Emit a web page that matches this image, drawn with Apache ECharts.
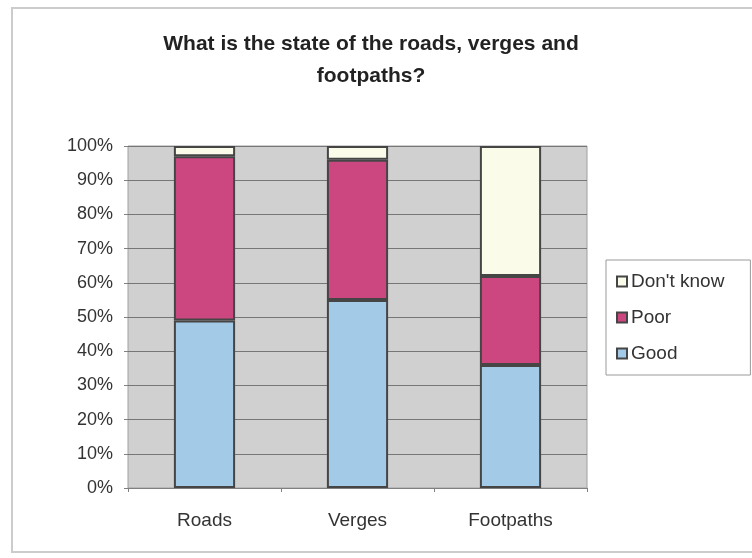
<!DOCTYPE html>
<html>
<head>
<meta charset="utf-8">
<script src="https://cdn.jsdelivr.net/npm/echarts@6/dist/echarts.min.js"></script>
<style>
  html, body { margin: 0; padding: 0; background: #ffffff; }
  #chart { width: 752px; height: 558px; }
</style>
</head>
<body>
<div id="chart"></div>
<script>
var categories = ['Roads', 'Verges', 'Footpaths'];
var good = [49, 55, 36];
var poor = [48, 41, 26];
var dontKnow = [3, 4, 38];

var edge = '#454545';

var option = {
    backgroundColor: '#ffffff',
    textStyle: { fontFamily: 'Liberation Sans, Arial, sans-serif' },
    title: {
        text: 'What is the state of the roads, verges and\nfootpaths?',
        left: 366,
        top: 23,
        textAlign: 'center',
        textStyle: {
            fontSize: 21,
            fontWeight: 'bold',
            color: '#222',
            lineHeight: 32
        }
    },
    graphic: [{
        type: 'rect',
        shape: { x: 12, y: 8, width: 760, height: 544 },
        style: { fill: 'none', stroke: '#cccccc', lineWidth: 2 },
        z: -10
    }],
    legend: {
        orient: 'vertical',
        left: 606,
        top: 260,
        padding: [12, 26, 12, 10],
        itemWidth: 10,
        itemHeight: 10,
        itemGap: 17,
        borderColor: '#9a9a9a',
        borderWidth: 1,
        icon: 'rect',
        data: ["Don't know", 'Poor', 'Good'],
        textStyle: { fontSize: 19, color: '#333', padding: [0, 0, 0, -1] }
    },
    grid: {
        left: 128,
        right: 165,
        top: 146,
        bottom: 70,
        show: true,
        backgroundColor: '#d0d0d0',
        borderColor: '#a0a0a0',
        borderWidth: 1
    },
    xAxis: {
        type: 'category',
        data: categories,
        axisLine: { lineStyle: { color: '#808080' } },
        axisTick: { show: true, length: 4, lineStyle: { color: '#808080' } },
        axisLabel: { color: '#333', fontSize: 19, margin: 23 }
    },
    yAxis: {
        type: 'value',
        min: 0,
        max: 100,
        interval: 10,
        axisLine: { show: false },
        axisTick: { show: true, length: 4, lineStyle: { color: '#808080' } },
        axisLabel: { color: '#333', fontSize: 18, margin: 15, formatter: '{value}%' },
        splitLine: { lineStyle: { color: '#767676', width: 1 } }
    },
    series: [{
        name: 'Good',
        type: 'bar',
        stack: 'all',
        barWidth: '40%',
        data: good,
        itemStyle: { color: '#a3cbe8', borderColor: edge, borderWidth: 2 }
    }, {
        name: 'Poor',
        type: 'bar',
        stack: 'all',
        data: poor,
        itemStyle: { color: '#cc4680', borderColor: edge, borderWidth: 2 }
    }, {
        name: "Don't know",
        type: 'bar',
        stack: 'all',
        data: dontKnow,
        itemStyle: { color: '#fbfbea', borderColor: edge, borderWidth: 2 }
    }]
};

var myChart = echarts.init(document.getElementById('chart'));
myChart.setOption(option);
</script>
</body>
</html>
